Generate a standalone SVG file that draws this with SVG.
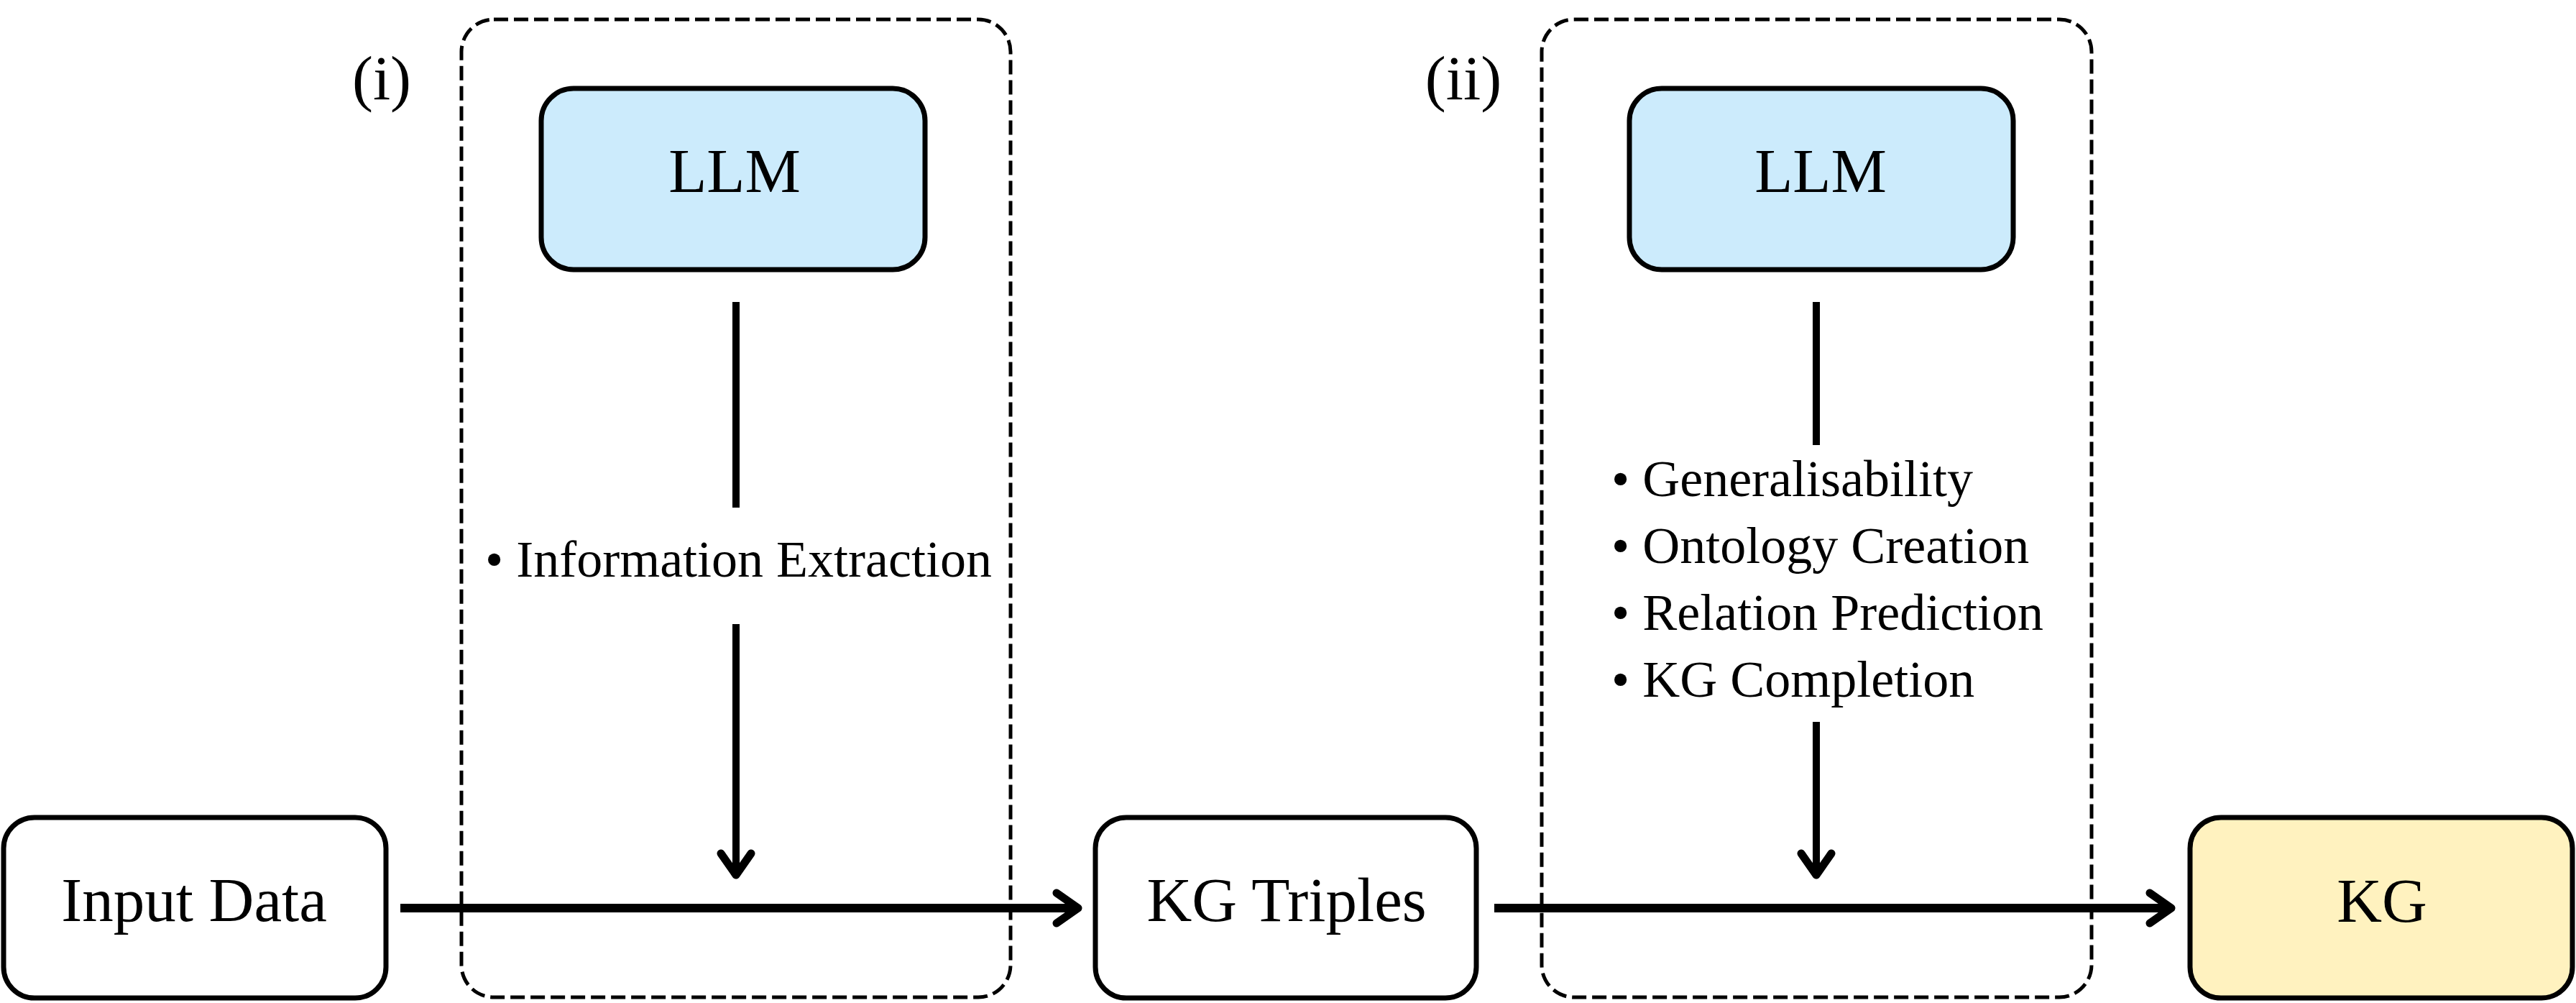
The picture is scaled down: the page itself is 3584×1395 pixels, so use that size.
<svg xmlns="http://www.w3.org/2000/svg" width="3584" height="1395" viewBox="0 0 3584 1395">
<style>
  text { font-family: "Liberation Serif", "Times New Roman", serif; fill: #000; }
  .lbl { font-size: 87px; text-anchor: middle; }
  .item { font-size: 72px; }
  .node { stroke: #000; stroke-width: 7; }
  .stage { fill: none; stroke: #000; stroke-width: 5; stroke-dasharray: 20 8; }
  .conn { fill: none; stroke: #000; stroke-linecap: butt; }
  .h { stroke-width: 12; }
  .v { stroke-width: 10; }
</style>
<defs>
  <marker id="chev" markerUnits="userSpaceOnUse" viewBox="-40 -40 80 80" markerWidth="80" markerHeight="80" refX="0" refY="0" orient="auto" overflow="visible">
    <path d="M -26 -21 L 4 0 L -26 21" fill="none" stroke="#000" stroke-width="11" stroke-linecap="round" stroke-linejoin="round"/>
  </marker>
</defs>
<rect width="3584" height="1395" fill="#fff"/>

<g id="stage-i">
  <rect class="stage" x="642" y="27" width="764" height="1360" rx="45" ry="45"/>
  <text class="lbl" x="531" y="138">(i)</text>
</g>
<g id="stage-ii">
  <rect class="stage" x="2145" y="27" width="765" height="1360" rx="45" ry="45"/>
  <text class="lbl" x="2036" y="138">(ii)</text>
</g>

<g id="llm-1">
  <rect class="node" x="753" y="123" width="534" height="252" rx="45" ry="45" fill="#CCEBFC"/>
  <text class="lbl" x="1022" y="267">LLM</text>
</g>
<g id="llm-2">
  <rect class="node" x="2267" y="123" width="534" height="252" rx="45" ry="45" fill="#CCEBFC"/>
  <text class="lbl" x="2533" y="267">LLM</text>
</g>

<g id="input-data">
  <rect class="node" x="5" y="1137" width="532" height="251" rx="43" ry="43" fill="#fff"/>
  <text class="lbl" x="270" y="1281">Input Data</text>
</g>
<g id="kg-triples">
  <rect class="node" x="1524" y="1137" width="530" height="251" rx="43" ry="43" fill="#fff"/>
  <text class="lbl" x="1790" y="1281">KG Triples</text>
</g>
<g id="kg">
  <rect class="node" x="3047" y="1137" width="532" height="251" rx="43" ry="43" fill="#FFF2BF"/>
  <text class="lbl" x="3314" y="1282">KG</text>
</g>

<g id="connectors">
  <line class="conn h" x1="557" y1="1263" x2="1496" y2="1263" marker-end="url(#chev)"/>
  <line class="conn h" x1="2079" y1="1263" x2="3017" y2="1263" marker-end="url(#chev)"/>
  <line class="conn v" x1="1024" y1="420" x2="1024" y2="706"/>
  <line class="conn v" x1="1024" y1="868" x2="1024" y2="1213" marker-end="url(#chev)"/>
  <line class="conn v" x1="2527" y1="420" x2="2527" y2="619"/>
  <line class="conn v" x1="2527" y1="1004" x2="2527" y2="1213" marker-end="url(#chev)"/>
</g>

<g id="labels">
  <text class="item" x="675" y="802">• Information Extraction</text>
  <text class="item" x="2242" y="690">• Generalisability</text>
  <text class="item" x="2242" y="783">• Ontology Creation</text>
  <text class="item" x="2242" y="876">• Relation Prediction</text>
  <text class="item" x="2242" y="969">• KG Completion</text>
</g>
</svg>
